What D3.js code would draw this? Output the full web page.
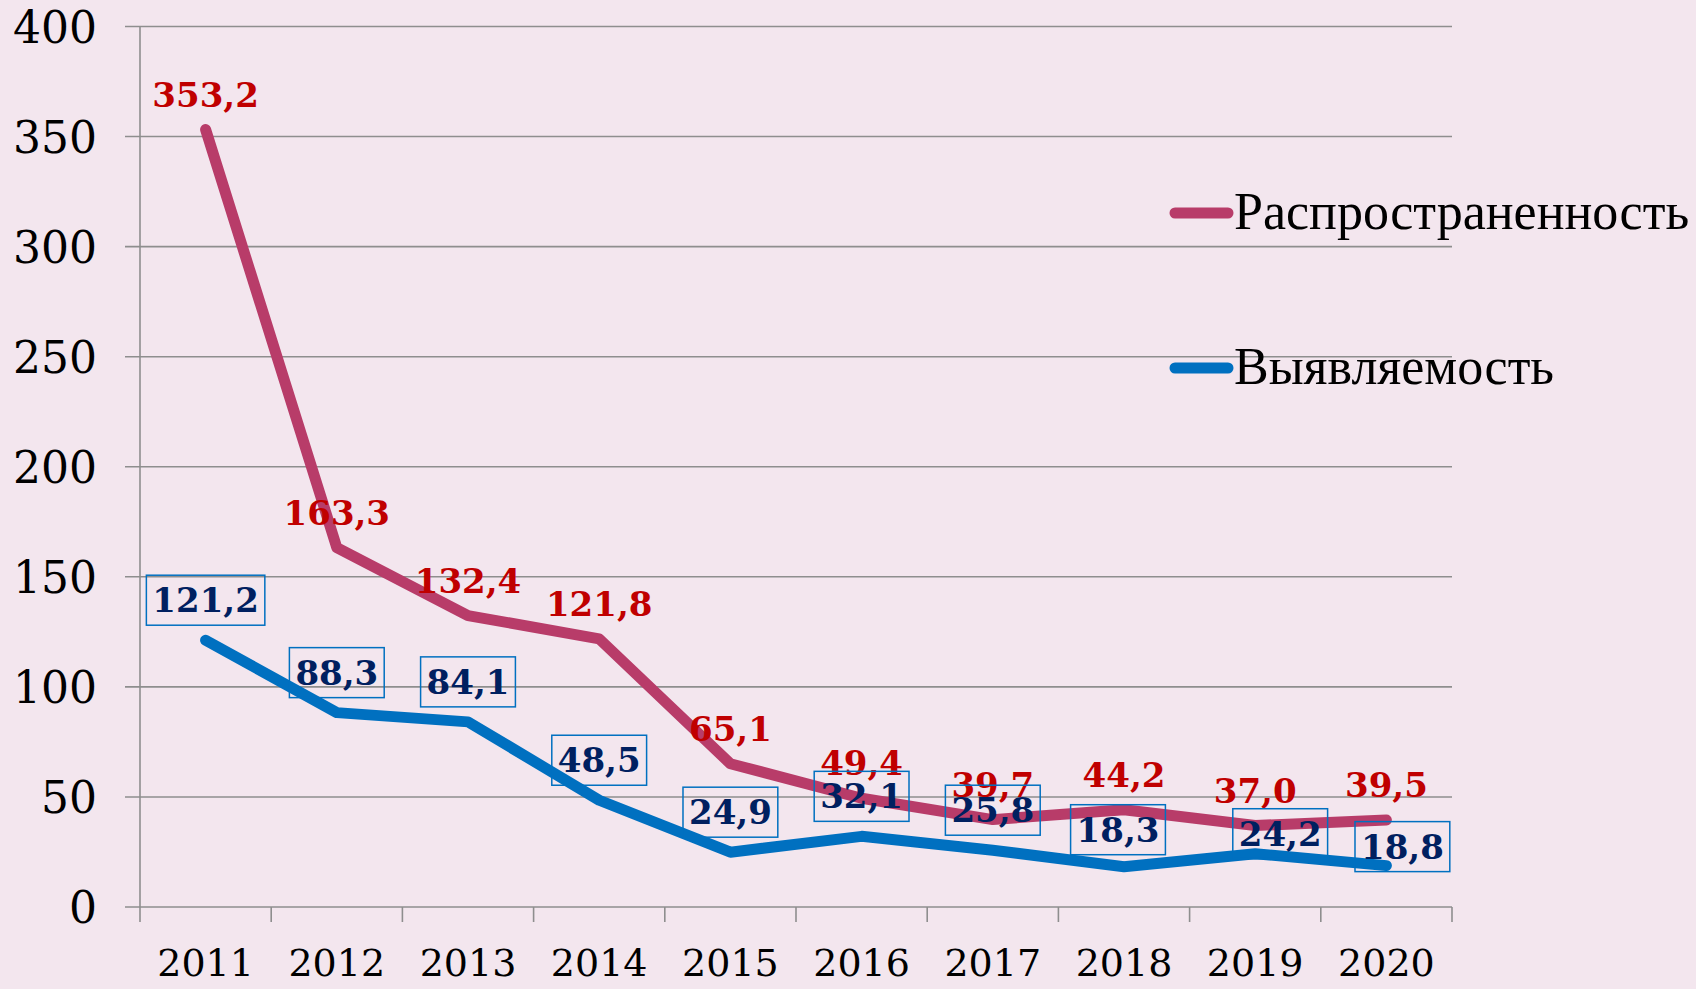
<!DOCTYPE html>
<html>
<head>
<meta charset="utf-8">
<script src="https://cdn.jsdelivr.net/npm/d3@7"></script>
<style>
	html, body { margin: 0; padding: 0; background: #F3E6EE; }
	svg { display: block; }
</style>
</head>
<body>
<div id="chart"></div>
<script>
	// data
	var years = ["2011", "2012", "2013", "2014", "2015", "2016", "2017", "2018", "2019", "2020"];
	var prevalence = [353.2, 163.3, 132.4, 121.8, 65.1, 49.4, 39.7, 44.2, 37.0, 39.5];
	var detection = [121.2, 88.3, 84.1, 48.5, 24.9, 32.1, 25.8, 18.3, 24.2, 18.8];
	var yTicks = [0, 50, 100, 150, 200, 250, 300, 350, 400];
	var seriesNames = ["Распространенность", "Выявляемость"];

	// where the boxed labels were dragged to (box centre relative to point)
	var boxShift = [[0, -40], [0, -40], [0, -40], [0, -40], [0, -40], [0, -40], [0, -40], [-6, -37], [25, -20], [16, -19]];

	var W = 1696, H = 989;
	var red = "#B83C69", blue = "#0070C0";
	var gridColor = "#8E8E8E";

	var svg = d3.select("#chart").append("svg")
		.attr("width", W)
		.attr("height", H);

	svg.append("rect")
		.attr("width", W)
		.attr("height", H)
		.attr("fill", "#F3E6EE");

	var x = d3.scaleBand().domain(years).range([140, 1452]);
	var y = d3.scaleLinear().domain([0, 400]).range([907, 26.5]);

	function fmt(v) {
		return v.toFixed(1).replace(".", ",");
	}

	// horizontal gridlines (also serve as left ticks)
	svg.append("g").selectAll("line")
		.data(yTicks)
		.join("line")
		.attr("x1", 125)
		.attr("x2", 1452)
		.attr("y1", function(d){ return y(d); })
		.attr("y2", function(d){ return y(d); })
		.attr("stroke", gridColor)
		.attr("stroke-width", 1.6);

	// vertical axis
	svg.append("line")
		.attr("x1", 140).attr("x2", 140)
		.attr("y1", y(400)).attr("y2", y(0) + 15)
		.attr("stroke", gridColor)
		.attr("stroke-width", 1.6);

	// category boundary ticks
	var bounds = years.map(function(d){ return x(d); }).concat([x.range()[1]]);
	svg.append("g").selectAll("line")
		.data(bounds.slice(1))
		.join("line")
		.attr("x1", function(d){ return d; })
		.attr("x2", function(d){ return d; })
		.attr("y1", y(0))
		.attr("y2", y(0) + 15)
		.attr("stroke", gridColor)
		.attr("stroke-width", 1.6);

	// y tick labels
	svg.append("g").selectAll("text")
		.data(yTicks)
		.join("text")
		.attr("x", 97)
		.attr("y", function(d){ return y(d) + 16; })
		.attr("text-anchor", "end")
		.attr("font-family", "DejaVu Serif")
		.attr("font-size", "44px")
		.attr("fill", "#000")
		.text(function(d){ return d; });

	// x tick labels
	svg.append("g").selectAll("text")
		.data(years)
		.join("text")
		.attr("x", function(d){ return x(d) + x.bandwidth() / 2; })
		.attr("y", 976)
		.attr("text-anchor", "middle")
		.attr("font-family", "DejaVu Serif")
		.attr("font-size", "38px")
		.attr("fill", "#000")
		.text(function(d){ return d; });

	var line = d3.line()
		.x(function(d, i){ return x(years[i]) + x.bandwidth() / 2; })
		.y(function(d){ return y(d); });

	svg.append("path")
		.datum(prevalence)
		.attr("d", line)
		.attr("fill", "none")
		.attr("stroke", red)
		.attr("stroke-width", 11)
		.attr("stroke-linejoin", "round")
		.attr("stroke-linecap", "round");

	svg.append("path")
		.datum(detection)
		.attr("d", line)
		.attr("fill", "none")
		.attr("stroke", blue)
		.attr("stroke-width", 11)
		.attr("stroke-linejoin", "round")
		.attr("stroke-linecap", "round");

	// red labels above points
	svg.append("g").selectAll("text")
		.data(prevalence)
		.join("text")
		.attr("x", function(d, i){ return x(years[i]) + x.bandwidth() / 2; })
		.attr("y", function(d){ return y(d) - 23; })
		.attr("text-anchor", "middle")
		.attr("font-family", "DejaVu Serif")
		.attr("font-weight", "bold")
		.attr("font-size", "34px")
		.attr("fill", "#C00000")
		.text(fmt);

	// boxed blue labels
	var boxes = svg.append("g").selectAll("g")
		.data(detection)
		.join("g")
		.attr("transform", function(d, i){
			var cx = x(years[i]) + x.bandwidth() / 2 + boxShift[i][0];
			var cy = y(d) + boxShift[i][1];
			return "translate(" + cx + "," + cy + ")";
		});

	boxes.append("text")
		.attr("x", 0)
		.attr("y", 12)
		.attr("text-anchor", "middle")
		.attr("font-family", "DejaVu Serif")
		.attr("font-weight", "bold")
		.attr("font-size", "34px")
		.attr("fill", "#002060")
		.text(fmt);

	boxes.each(function(){
		var g = d3.select(this);
		var bb = g.select("text").node().getBBox();
		g.insert("rect", "text")
			.attr("x", bb.x - 6)
			.attr("y", -25)
			.attr("width", bb.width + 12)
			.attr("height", 50)
			.attr("fill", "none")
			.attr("stroke", blue)
			.attr("stroke-width", 1.5);
	});

	// legend
	var legendColors = [red, blue];
	var legendY = [213, 368];
	var legend = svg.append("g").selectAll("g")
		.data(seriesNames)
		.join("g")
		.attr("transform", function(d, i){ return "translate(0," + legendY[i] + ")"; });

	legend.append("line")
		.attr("x1", 1175).attr("x2", 1228)
		.attr("y1", 0).attr("y2", 0)
		.attr("stroke", function(d, i){ return legendColors[i]; })
		.attr("stroke-width", 11)
		.attr("stroke-linecap", "round");

	legend.append("text")
		.attr("x", 1234)
		.attr("y", 16)
		.attr("font-family", "Liberation Serif")
		.attr("font-size", "52px")
		.attr("fill", "#000")
		.text(function(d){ return d; });
</script>
</body>
</html>
